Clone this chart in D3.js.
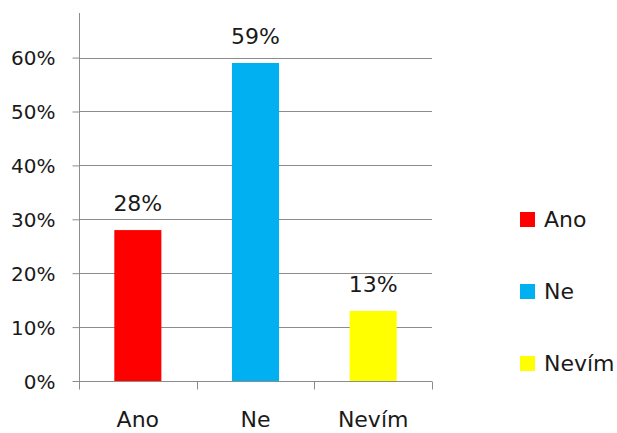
<!DOCTYPE html>
<html>
<head>
<meta charset="utf-8">
<script src="https://cdn.jsdelivr.net/npm/d3@7"></script>
<style>
  body { margin: 0; background: #fff; }
  svg text { font-family: "DejaVu Sans", sans-serif; fill: #1a1a1a; }
</style>
</head>
<body>
<div id="chart"></div>
<script>
// chart data
const categories = ['Ano', 'Ne', 'Nevím'];
const values = [0.28, 0.59, 0.13];
const colors = ['#ff0000', '#00b0f0', '#ffff00'];
const yTicks = [0, 0.1, 0.2, 0.3, 0.4, 0.5, 0.6];

const width = 617, height = 433;
const plot = {left: 79, right: 432, top: 13, bottom: 381};

const svg = d3.select('#chart')
    .append('svg')
    .attr('width', width)
    .attr('height', height);

// scales
const x = d3.scaleBand()
    .domain(categories)
    .range([plot.left, plot.right])
    .paddingInner(0.6)
    .paddingOuter(0.3);

const y = d3.scaleLinear()
    .domain([0, 0.6])
    .range([plot.bottom, 57.6]);

const fmt = d3.format('.0%');

// gridlines
svg.append('g')
    .selectAll('line')
    .data(yTicks.slice(1))
    .enter()
    .append('line')
    .attr('x1', plot.left)
    .attr('x2', plot.right)
    .attr('y1', d => Math.round(y(d)) + 0.5)
    .attr('y2', d => Math.round(y(d)) + 0.5)
    .attr('stroke', '#8c8c8c')
    .attr('stroke-width', 1);

// bars
svg.append('g')
    .selectAll('rect')
    .data(values)
    .enter()
    .append('rect')
    .attr('x', (d, i) => x(categories[i]))
    .attr('y', d => y(d))
    .attr('width', x.bandwidth())
    .attr('height', d => y(0) - y(d))
    .attr('fill', (d, i) => colors[i]);

// value labels
svg.append('g')
    .selectAll('text')
    .data(values)
    .enter()
    .append('text')
    .attr('x', (d, i) => x(categories[i]) + x.bandwidth() / 2)
    .attr('y', d => y(d) - 19)
    .attr('text-anchor', 'middle')
    .style('font-size', '22px')
    .text(d => fmt(d));

// y axis
const yAxis = svg.append('g')
    .attr('transform', `translate(${plot.left + 0.5},0)`)
    .call(d3.axisLeft(y).tickValues(yTicks).tickFormat(fmt).tickSize(7).tickSizeOuter(0));
yAxis.select('.domain').remove();
yAxis.append('line')
    .attr('x1', 0).attr('x2', 0)
    .attr('y1', plot.top).attr('y2', plot.bottom)
    .attr('stroke', '#8c8c8c');
yAxis.selectAll('.tick line').attr('stroke', '#8c8c8c');
yAxis.selectAll('.tick text')
    .attr('x', -24)
    .attr('dy', '0.36em')
    .style('font-size', '20px')
    .style('font-family', '"DejaVu Sans", sans-serif')
    .attr('fill', '#1a1a1a');

// x axis
const xAxis = svg.append('g')
    .attr('transform', `translate(0,${plot.bottom + 0.5})`);
xAxis.append('line')
    .attr('x1', plot.left).attr('x2', plot.right)
    .attr('stroke', '#8c8c8c');
const step = x.step();
const bounds = [plot.left].concat(categories.map(c => x(c) + x.bandwidth() / 2 + step / 2));
xAxis.selectAll('.sep')
    .data(bounds)
    .enter()
    .append('line')
    .attr('class', 'sep')
    .attr('x1', d => Math.round(d) + 0.5)
    .attr('x2', d => Math.round(d) + 0.5)
    .attr('y1', 0)
    .attr('y2', 8)
    .attr('stroke', '#8c8c8c');
xAxis.selectAll('.cat')
    .data(categories)
    .enter()
    .append('text')
    .attr('class', 'cat')
    .attr('x', d => x(d) + x.bandwidth() / 2)
    .attr('y', 45)
    .attr('text-anchor', 'middle')
    .style('font-size', '22px')
    .text(d => d);

// legend
const legend = svg.append('g')
    .selectAll('g')
    .data(categories)
    .enter()
    .append('g')
    .attr('transform', (d, i) => `translate(520,${212 + i * 72})`);
legend.append('rect')
    .attr('width', 15)
    .attr('height', 15)
    .attr('fill', (d, i) => colors[i]);
legend.append('text')
    .attr('x', 24)
    .attr('y', 15)
    .style('font-size', '22px')
    .text(d => d);
</script>
</body>
</html>
